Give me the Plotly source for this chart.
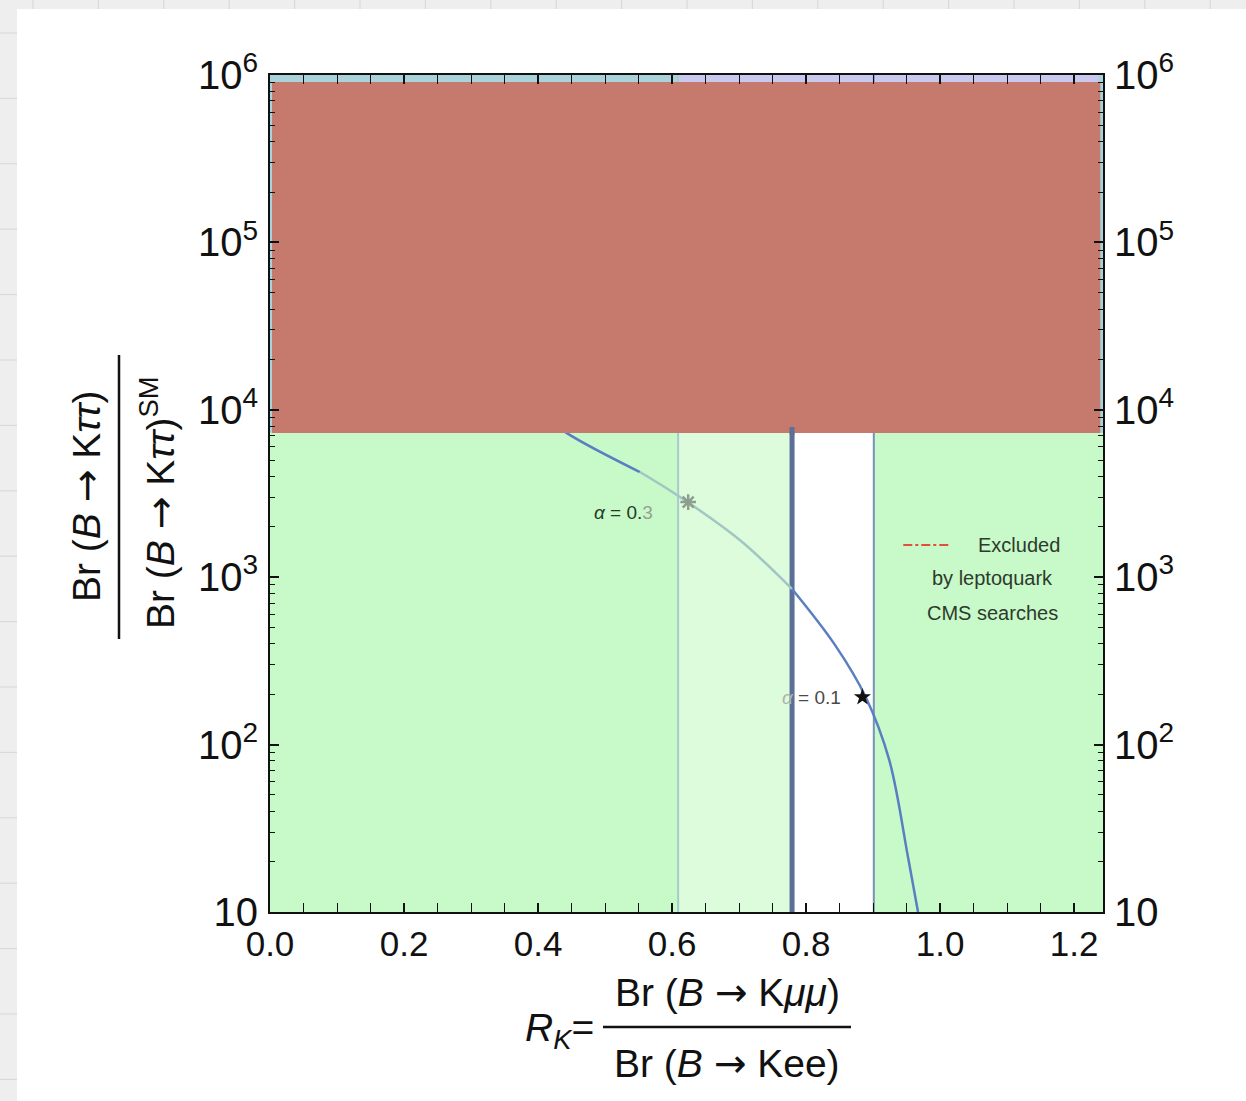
import plotly.graph_objects as go
import numpy as np

# ---------------- data ----------------
# R_K curve (x) vs Br(B->Ktautau)/Br^SM (y)
curve_x = [0.40, 0.443, 0.552, 0.612, 0.701, 0.779, 0.843, 0.889, 0.924, 0.952, 0.967]
curve_y = [9800, 7260, 4250, 3010, 1667, 850, 394, 192, 81, 21.3, 10]
fade_from, fade_to = 0.552, 0.779

# vertical band edges (R_K measurement bands)
band_edges = [0.609, 0.779, 0.901]
x_range = [0.0, 1.243]
y_min, y_max = 10, 1e6
blue_region_bottom = 7300          # upper (blue) region under the overlay
thick_line_top = 7890

# overlay (redaction) box
overlay_x = [0.003, 1.239]
overlay_y = [7260, 908000]

# benchmark points
star_labels = ["α = 0.3", "α = 0.1"]
star_x = [0.624, 0.884]
star_y = [2810, 192]

# legend line
legend_x = [0.945, 1.015]
legend_y = [1556, 1556]

y_tickvals = [10, 100, 1000, 10000, 100000, 1000000]
y_ticktext = ["10", "10<sup>2</sup>", "10<sup>3</sup>", "10<sup>4</sup>", "10<sup>5</sup>", "10<sup>6</sup>"]
x_tickvals = [0.0, 0.2, 0.4, 0.6, 0.8, 1.0, 1.2]
x_ticktext = ["0.0", "0.2", "0.4", "0.6", "0.8", "1.0", "1.2"]

# ---------------- layout geometry ----------------
W, H = 1246, 1101
L, R, T, B = 270, 143, 75, 189
PW, PH = W - L - R, H - T - B


def px(xp):
    return (xp - L) / PW


def py(yp):
    return (H - B - yp) / PH


FONT = "Liberation Sans, Arial, Helvetica, sans-serif"
ARROW = "<span style='font-family:DejaVu Sans'>→</span>"

fig = go.Figure()


def rect(x0, x1, y0, y1, color, name):
    fig.add_trace(go.Scatter(x=[x0, x1, x1, x0, x0], y=[y0, y0, y1, y1, y0],
                             mode="lines", fill="toself", fillcolor=color,
                             line=dict(width=0), hoverinfo="skip", showlegend=False, name=name))


# background regions
rect(x_range[0], x_range[1], y_min, y_max, "#C8F9C8", "allowed")
rect(band_edges[0], band_edges[1], y_min, y_max, "#DCFCDC", "band1")
rect(band_edges[1], band_edges[2], y_min, y_max, "#FFFFFF", "band2")
rect(x_range[0], x_range[1], blue_region_bottom, y_max, "#A9D2DA", "upper")
rect(band_edges[0], 1.236, blue_region_bottom, y_max, "#C9C9F0", "upper2")

# vertical lines
line_styles = [("#A6CBCF", 2), ("#5B6F99", 5), ("#7A90B8", 2)]
for xe, (c, w) in zip(band_edges, line_styles):
    top = thick_line_top if w > 3 else y_max
    fig.add_trace(go.Scatter(x=[xe, xe], y=[y_min, top], mode="lines",
                             line=dict(color=c, width=w), hoverinfo="skip", showlegend=False))

# curve, split into dark / faded / dark segments
cx = np.array(curve_x)
cy = np.array(curve_y)
seg1 = cx <= fade_from
seg2 = (cx >= fade_from) & (cx <= fade_to)
seg3 = cx >= fade_to
for mask, c in [(seg1, "#5A7EC2"), (seg2, "#A2C6C3"), (seg3, "#5A7EC2")]:
    fig.add_trace(go.Scatter(x=cx[mask], y=cy[mask], mode="lines",
                             line=dict(color=c, width=2.5, shape="spline", smoothing=1.0),
                             hoverinfo="skip", showlegend=False))

# overlay box
rect(overlay_x[0], overlay_x[1], overlay_y[0], overlay_y[1], "#C67A6D", "overlay")

# thick line drawn again above overlay edge
fig.add_trace(go.Scatter(x=[band_edges[1], band_edges[1]], y=[overlay_y[0] * 0.98, thick_line_top], mode="lines",
                         line=dict(color="#5B6F99", width=5), hoverinfo="skip", showlegend=False))

# stars
fig.add_trace(go.Scatter(x=[star_x[0]], y=[star_y[0]], mode="markers",
                         marker=dict(symbol="asterisk-open", size=13, color="#8E9E8E",
                                     line=dict(width=2.5, color="#8E9E8E")),
                         hoverinfo="skip", showlegend=False))
fig.add_trace(go.Scatter(x=[star_x[1]], y=[star_y[1]], mode="markers",
                         marker=dict(symbol="star", size=13, color="#111111"),
                         hoverinfo="skip", showlegend=False))

# legend line
fig.add_trace(go.Scatter(x=legend_x, y=legend_y, mode="lines",
                         line=dict(color="#E0503C", width=2, dash="dashdot"),
                         hoverinfo="skip", showlegend=False))

# dummy on right axis
fig.add_trace(go.Scatter(x=[0.5], y=[100], yaxis="y2", mode="markers", marker=dict(opacity=0),
                         hoverinfo="skip", showlegend=False))

# ---------------- annotations ----------------
ann = []


def text(xp, yp, t, size, color="#111111", angle=0):
    ann.append(dict(x=px(xp), y=py(yp), xref="paper", yref="paper", showarrow=False,
                    xanchor="center", yanchor="middle", textangle=angle, text=t,
                    font=dict(family=FONT, size=size, color=color)))


text(623, 512, "<i>α</i> = 0.<span style='color:#94A294'>3</span>", 19, "#233A25")
text(811, 697, "<span style='color:#AAB4AA'><i>α</i></span> = 0.1", 19, "#4A4A4A")
text(1019, 545, "Excluded", 20, "#2E3A2E")
text(992, 578, "by leptoquark", 20, "#2E3A2E")
text(992, 613, "CMS searches", 20, "#2E3A2E")

# y-axis title fraction
text(87, 497, "Br (<i>B</i> " + ARROW + " K<i>ττ</i>)", 39, angle=-90)
text(158, 503, "Br (<i>B</i> " + ARROW + " K<i>ττ</i>)<sup>SM</sup>", 39, angle=-90)
# x-axis title fraction
text(559, 1030, "<i>R<sub>K</sub></i>=", 39)
text(727, 992, "Br (<i>B</i> " + ARROW + " K<i>μμ</i>)", 39)
text(727, 1063, "Br (<i>B</i> " + ARROW + " Kee)", 39)

shapes = []
# slide background card and faint grid in margins
shapes.append(dict(type="rect", xref="paper", yref="paper", x0=px(17), x1=px(W + 5), y0=py(H + 5), y1=py(9),
                   fillcolor="white", line=dict(width=0), layer="below"))
for k in range(20):
    xv = 33 + 65.4 * k
    shapes.append(dict(type="line", xref="paper", yref="paper", x0=px(xv), x1=px(xv), y0=py(0), y1=py(9),
                       line=dict(color="#D6D6D6", width=1), layer="below"))
for k in range(17):
    yv = 33 + 65.4 * k
    shapes.append(dict(type="line", xref="paper", yref="paper", x0=px(0), x1=px(17), y0=py(yv), y1=py(yv),
                       line=dict(color="#D6D6D6", width=1), layer="below"))
# fraction bars
shapes.append(dict(type="line", xref="paper", yref="paper", x0=px(119), x1=px(119), y0=py(355), y1=py(639),
                   line=dict(color="#111111", width=2.5)))
shapes.append(dict(type="line", xref="paper", yref="paper", x0=px(603), x1=px(851), y0=py(1027), y1=py(1027),
                   line=dict(color="#111111", width=2.5)))

fig.update_layout(
    width=W, height=H,
    margin=dict(l=L, r=R, t=T, b=B, pad=0),
    paper_bgcolor="#EEEEEE",
    plot_bgcolor="rgba(0,0,0,0)",
    showlegend=False,
    annotations=ann,
    shapes=shapes,
    xaxis=dict(range=x_range, tickvals=x_tickvals, ticktext=x_ticktext,
               ticks="inside", ticklen=9, tickwidth=1.5, tickcolor="#111111",
               minor=dict(ticks="inside", ticklen=5, dtick=0.05, tickcolor="#111111", tickwidth=1),
               showline=True, linecolor="#111111", linewidth=2, mirror="allticks",
               showgrid=False, zeroline=False, ticklabelstandoff=0,
               tickfont=dict(family=FONT, size=35, color="#111111")),
    yaxis=dict(type="log", range=[1, 6], tickvals=y_tickvals, ticktext=y_ticktext,
               ticks="inside", ticklen=9, tickwidth=1.5, tickcolor="#111111",
               minor=dict(ticks="inside", ticklen=5, tickcolor="#111111", tickwidth=1, dtick="D1"),
               showline=True, linecolor="#111111", linewidth=2, mirror="allticks",
               showgrid=False, zeroline=False, ticklabelstandoff=2,
               tickfont=dict(family=FONT, size=40, color="#111111")),
    yaxis2=dict(type="log", range=[1, 6], overlaying="y", side="right", tickvals=y_tickvals, ticktext=y_ticktext,
                ticks="", showline=False, showgrid=False, zeroline=False, ticklabelstandoff=10,
                tickfont=dict(family=FONT, size=40, color="#111111")),
)

fig.write_html("out.html", config={"displayModeBar": False},
               post_script="document.body.style.margin='0px';")
